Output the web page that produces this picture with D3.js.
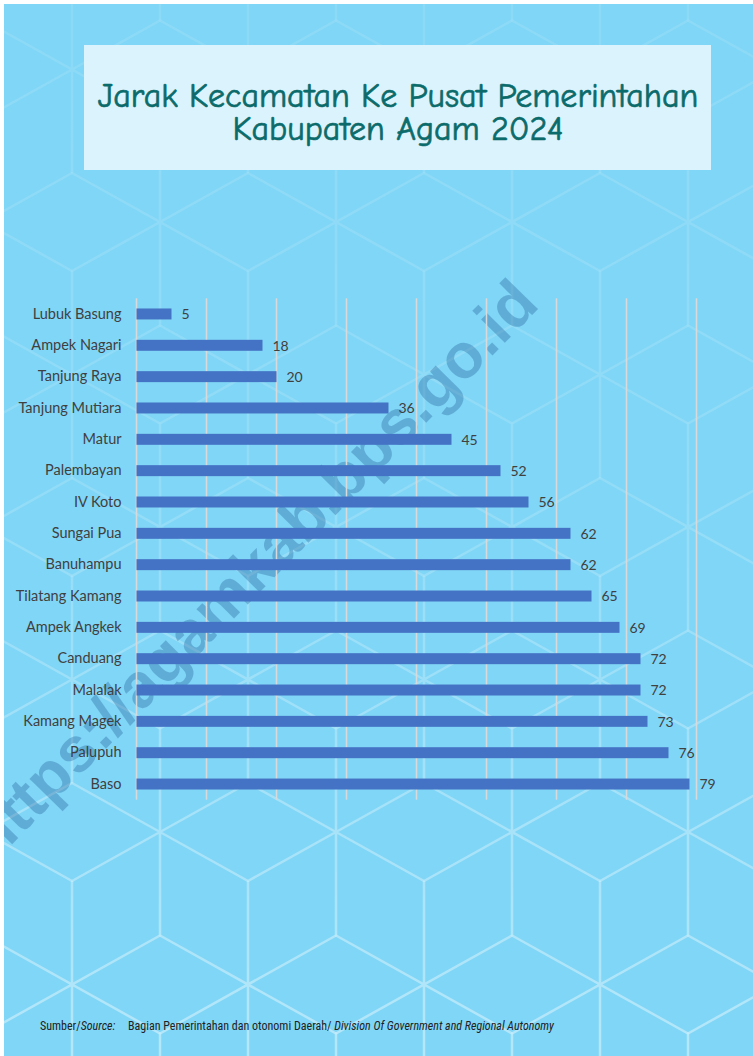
<!DOCTYPE html>
<html>
<head>
<meta charset="utf-8">
<script src="https://cdn.jsdelivr.net/npm/d3@7"></script>
<style>
  html, body { margin: 0; padding: 0; background: #ffffff; }
  svg { display: block; }
</style>
</head>
<body>
<svg id="chart" width="753" height="1056"></svg>
<script>
// data
const kecamatan = [
  "Lubuk Basung", "Ampek Nagari", "Tanjung Raya", "Tanjung Mutiara", "Matur",
  "Palembayan", "IV Koto", "Sungai Pua", "Banuhampu", "Tilatang Kamang",
  "Ampek Angkek", "Canduang", "Malalak", "Kamang Magek", "Palupuh", "Baso"
];
const jarak = [5, 18, 20, 36, 45, 52, 56, 62, 62, 65, 69, 72, 72, 73, 76, 79];
const xTicks = [0, 10, 20, 30, 40, 50, 60, 70, 80];

const titleLines = ["Jarak Kecamatan Ke Pusat Pemerintahan", "Kabupaten Agam 2024"];

const W = 753, H = 1056;
const svg = d3.select("#chart");
const defs = svg.append("defs");

// page background
svg.append("rect")
  .attr("x", 4).attr("y", 4)
  .attr("width", W - 4).attr("height", H - 4)
  .attr("fill", "#80d6f6");

// decorative hex pattern, fades in towards the bottom
const grad = defs.append("linearGradient")
  .attr("id", "hexFade")
  .attr("gradientUnits", "userSpaceOnUse")
  .attr("x1", 0).attr("y1", 0).attr("x2", 0).attr("y2", H);
grad.append("stop").attr("offset", "0").attr("stop-color", "#ffffff").attr("stop-opacity", 0.1);
grad.append("stop").attr("offset", "0.45").attr("stop-color", "#ffffff").attr("stop-opacity", 0.14);
grad.append("stop").attr("offset", "1").attr("stop-color", "#ffffff").attr("stop-opacity", 0.42);

const hexCenters = [];
for (let m = -1; m <= 4; m++) {
  for (let k = -1; k <= 5; k++) {
    hexCenters.push([160 + 176 * k, 222 + 305 * m]);
    hexCenters.push([72 + 176 * k, 374.5 + 305 * m]);
  }
}
const hexG = svg.append("g")
  .attr("stroke", "url(#hexFade)")
  .attr("stroke-width", 2.5)
  .attr("fill", "none");
hexCenters.forEach(([cx, cy]) => {
  hexG.append("path").attr("d",
    `M${cx},${cy - 103.5}V${cy + 103.5}` +
    `M${cx - 88},${cy - 49}L${cx + 88},${cy + 49}` +
    `M${cx - 88},${cy + 49}L${cx + 88},${cy - 49}`);
});

// watermark sits under the chart marks
svg.append("text")
  .attr("transform", "translate(541,306) rotate(-45.5)")
  .attr("text-anchor", "end")
  .attr("font-family", "'Liberation Sans', Arial, sans-serif")
  .attr("font-weight", "bold")
  .attr("font-size", 63)
  .attr("fill", "#1a5a98")
  .attr("fill-opacity", 0.33)
  .text("https://agamkab.bps.go.id");

// keep the white margin on top/left
svg.append("rect").attr("x", 0).attr("y", 0).attr("width", W).attr("height", 4).attr("fill", "#fff");
svg.append("rect").attr("x", 0).attr("y", 0).attr("width", 4).attr("height", H).attr("fill", "#fff");

// title box
svg.append("rect")
  .attr("x", 84).attr("y", 45)
  .attr("width", 627).attr("height", 125)
  .attr("fill", "#dbf3fc");

const titleText = svg.append("g")
  .attr("font-family", "'Comic Sans MS', 'Comic Neue', 'DejaVu Sans', sans-serif")
  .attr("fill", "#0b6b6b")
  .attr("stroke", "#0b6b6b")
  .attr("stroke-width", 0.7)
  .attr("text-anchor", "middle");
titleLines.forEach((line, i) => {
  titleText.append("text")
    .attr("x", 398)
    .attr("y", 107 + i * 33)
    .attr("font-size", 34)
    .text(line);
});

// chart
const margin = { top: 298.3, left: 136.5 };
const plotW = 560, plotH = 501.4;

const xScale = d3.scaleLinear().domain([0, 80]).range([0, plotW]);
const yScale = d3.scaleBand().domain(kecamatan).range([0, plotH]).paddingInner(0.65).paddingOuter(0.325);

const g = svg.append("g").attr("transform", `translate(${margin.left},${margin.top})`);

g.selectAll("line.grid")
  .data(xTicks)
  .join("line")
  .attr("class", "grid")
  .attr("x1", (d) => xScale(d)).attr("x2", (d) => xScale(d))
  .attr("y1", 0).attr("y2", plotH)
  .attr("stroke", "#d9d9d9")
  .attr("stroke-width", 1.5);

g.selectAll("rect.bar")
  .data(jarak)
  .join("rect")
  .attr("class", "bar")
  .attr("x", 0)
  .attr("y", (d, i) => yScale(kecamatan[i]))
  .attr("width", (d) => xScale(d))
  .attr("height", yScale.bandwidth())
  .attr("fill", "#4472c4");

g.selectAll("text.val")
  .data(jarak)
  .join("text")
  .attr("class", "val")
  .attr("x", (d) => xScale(d) + 10)
  .attr("y", (d, i) => yScale(kecamatan[i]) + yScale.bandwidth() / 2)
  .attr("dy", "0.38em")
  .attr("font-family", "Lato, 'Open Sans', sans-serif")
  .attr("font-size", 14)
  .attr("fill", "#404040")
  .text((d) => d);

const yAxis = g.append("g")
  .call(d3.axisLeft(yScale).tickSize(0).tickPadding(15));
yAxis.select(".domain").remove();
yAxis.selectAll("text")
  .attr("font-family", "Lato, 'Open Sans', sans-serif")
  .attr("font-size", 14.5)
  .attr("fill", "#404040");

// source note
const src = svg.append("text")
  .attr("y", 1030)
  .attr("font-family", "'Liberation Sans Narrow', 'Roboto Condensed', 'Liberation Sans', sans-serif")
  .attr("font-size", 12)
  .attr("fill", "#222");
src.append("tspan").attr("x", 40).text("Sumber/");
src.append("tspan").attr("font-style", "italic").text("Source:");
src.append("tspan").attr("x", 128).text("Bagian Pemerintahan dan otonomi Daerah/ ");
src.append("tspan").attr("font-style", "italic").text("Division Of Government and Regional Autonomy");
</script>
</body>
</html>
